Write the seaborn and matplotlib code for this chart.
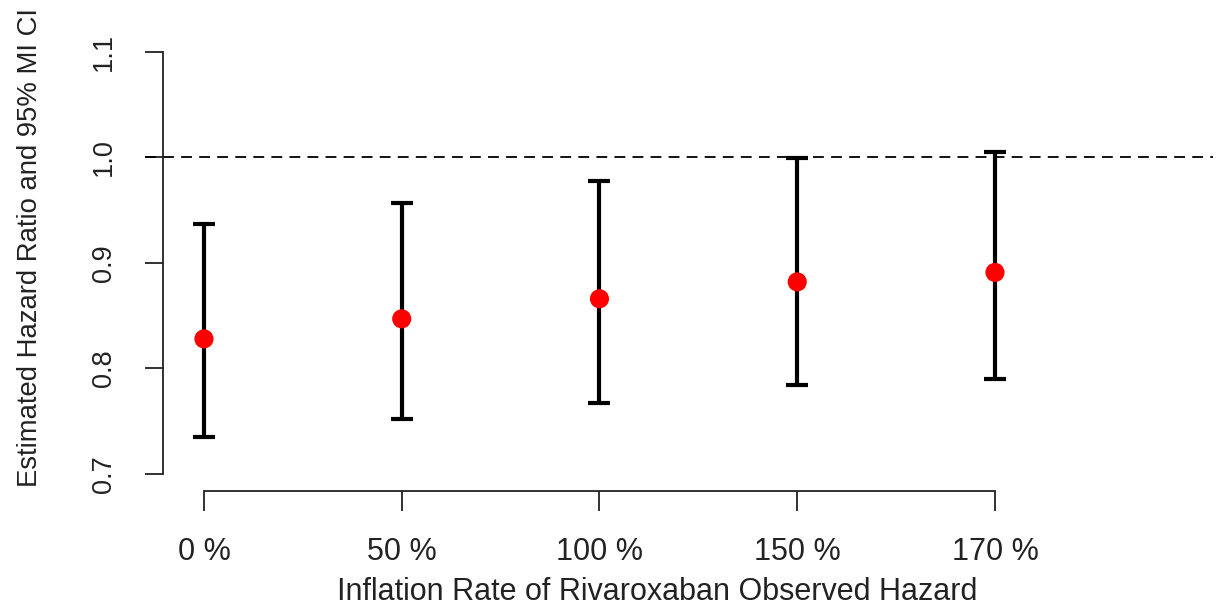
import matplotlib
matplotlib.use("Agg")
import matplotlib.pyplot as plt
import seaborn as sns
import pandas as pd

# Daten
inflation_labels = ["0 %", "50 %", "100 %", "150 %", "170 %"]
hr_estimate = [0.828, 0.847, 0.866, 0.882, 0.891]
ci_lower = [0.735, 0.752, 0.767, 0.784, 0.790]
ci_upper = [0.937, 0.957, 0.978, 0.999, 1.005]
y_ticks = [0.7, 0.8, 0.9, 1.0, 1.1]

df = pd.DataFrame({
    "pos": range(len(inflation_labels)),
    "label": inflation_labels,
    "hr": hr_estimate,
    "lo": ci_lower,
    "hi": ci_upper})

sns.set_style("white")
plt.rcParams["font.family"] = ["Liberation Sans", "DejaVu Sans"]

fig = plt.figure(figsize=(12.17, 6.05), dpi=100)
ax = fig.add_axes([0.1191, 0.1889, 0.8776, 0.7256])

# Referenzlinie bei HR = 1
ax.axhline(1.0, color="black", lw=1.3, linestyle=(0, (6, 4)), zorder=1)

# Konfidenzintervalle
ax.errorbar(
    df["pos"], df["hr"],
    yerr=[df["hr"] - df["lo"], df["hi"] - df["hr"]],
    fmt="none", ecolor="black", elinewidth=3, capsize=8, capthick=3, zorder=2)

# Punktschaetzer
sns.scatterplot(data=df, x="pos", y="hr", color="red", s=190,
                edgecolor="none", ax=ax, zorder=3)

ax.set_xlim(-0.2984, 5.1024)
ax.set_ylim(0.6842, 1.1)

for s in ["top", "right"]:
    ax.spines[s].set_visible(False)
ax.spines["left"].set_position(("data", -0.207))
ax.spines["left"].set_bounds(0.7, 1.1)
ax.spines["bottom"].set_bounds(0, 4)
for s in ["left", "bottom"]:
    ax.spines[s].set_color("#222222")
    ax.spines[s].set_linewidth(1.3)

ax.set_xticks(df["pos"])
ax.set_xticklabels(inflation_labels)
ax.set_yticks(y_ticks)
ax.set_yticklabels([f"{v:.1f}" for v in y_ticks], rotation=90, va="center")
ax.tick_params(axis="y", length=13, width=1.3, color="#222222", pad=20,
               labelsize=19.5, labelcolor="#222222", left=True)
ax.tick_params(axis="x", length=14.5, width=1.3, color="#222222", pad=19,
               labelsize=22, labelcolor="#222222", bottom=True)

ax.set_xlabel("Inflation Rate of Rivaroxaban Observed Hazard", fontsize=22,
              color="#222222")
ax.set_ylabel("Estimated Hazard Ratio and 95% MI CI", fontsize=19.8,
              color="#222222")
ax.xaxis.set_label_coords(0.480, -0.2307)
ax.xaxis.label.set_va("center")
ax.yaxis.set_label_coords(-0.1077, 0.553)
ax.yaxis.label.set_va("center")

fig.savefig("out.png", dpi=100)
